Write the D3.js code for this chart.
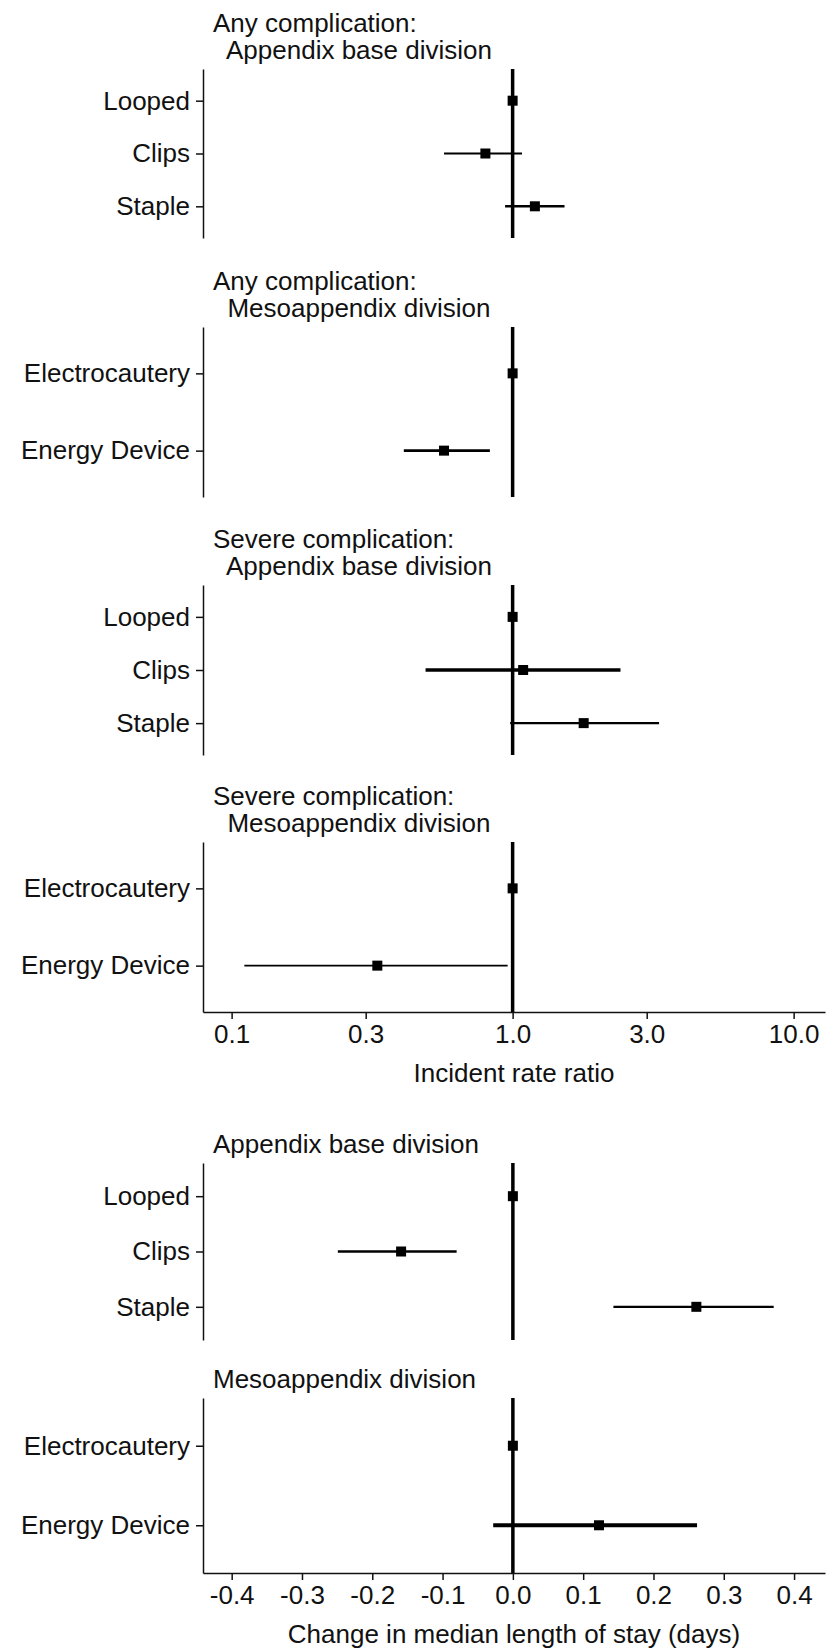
<html>
<head>
<meta charset="utf-8">
<title>Forest plots</title>
<style>
  body { margin: 0; background: #fff; }
  text { font-family: "Liberation Sans", Arial, sans-serif; fill: #111; }
</style>
<script src="https://d3js.org/d3.v7.min.js"></script>
</head>
<body>
<svg width="836" height="1651"></svg>
<script>
// ---- data ----
var baseMethods = ["Looped", "Clips", "Staple"];
var mesoMethods = ["Electrocautery", "Energy Device"];

var panelTitles = [
  ["Any complication:", "  Appendix base division"],
  ["Any complication:", "  Mesoappendix division"],
  ["Severe complication:", "  Appendix base division"],
  ["Severe complication:", "  Mesoappendix division"],
  ["Appendix base division"],
  ["Mesoappendix division"]
];

// incident rate ratios (reference level = 1)
var anyBaseEst = [1.00, 0.80, 1.20];
var anyBaseLo  = [1.00, 0.57, 0.94];
var anyBaseHi  = [1.00, 1.08, 1.53];

var anyMesoEst = [1.00, 0.57];
var anyMesoLo  = [1.00, 0.41];
var anyMesoHi  = [1.00, 0.83];

var sevBaseEst = [1.00, 1.09, 1.79];
var sevBaseLo  = [1.00, 0.49, 0.98];
var sevBaseHi  = [1.00, 2.42, 3.32];

var sevMesoEst = [1.00, 0.33];
var sevMesoLo  = [1.00, 0.111];
var sevMesoHi  = [1.00, 0.96];

// change in median length of stay (days)
var losBaseEst = [0.00, -0.159, 0.261];
var losBaseLo  = [0.00, -0.249, 0.143];
var losBaseHi  = [0.00, -0.080, 0.371];

var losMesoEst = [0.00, 0.1225];
var losMesoLo  = [0.00, -0.028];
var losMesoHi  = [0.00, 0.262];

var irrTicks = [0.1, 0.3, 1.0, 3.0, 10.0];
var losTicks = [-0.4, -0.3, -0.2, -0.1, 0.0, 0.1, 0.2, 0.3, 0.4];

// ---- layout ----
var svg = d3.select("svg");
var fs = 26;
var x0 = 203, x1 = 825;
var fmt = d3.formatLocale({decimal: ".", thousands: ",", grouping: [3], currency: ["", ""], minus: "-"}).format(".1f");

var xLog = d3.scaleLog().domain([0.0791, 12.93]).range([x0, x1]);
var xLin = d3.scaleLinear().domain([-0.4408, 0.4440]).range([x0, x1]);

function rows(cats, est, lo, hi) {
  return cats.map(function(c, i) { return {cat: c, est: est[i], lo: lo[i], hi: hi[i]}; });
}

var panels = [
  {title: panelTitles[0], data: rows(baseMethods, anyBaseEst, anyBaseLo, anyBaseHi), x: xLog, ref: 1, top: 69,   bottom: 238,  lw: [0, 2.2, 2.6]},
  {title: panelTitles[1], data: rows(mesoMethods, anyMesoEst, anyMesoLo, anyMesoHi), x: xLog, ref: 1, top: 327,  bottom: 497,  lw: [0, 2.6]},
  {title: panelTitles[2], data: rows(baseMethods, sevBaseEst, sevBaseLo, sevBaseHi), x: xLog, ref: 1, top: 585,  bottom: 755,  lw: [0, 3.4, 2.4]},
  {title: panelTitles[3], data: rows(mesoMethods, sevMesoEst, sevMesoLo, sevMesoHi), x: xLog, ref: 1, top: 842,  bottom: 1012, lw: [0, 1.8],
    axis: {ticks: irrTicks, label: "Incident rate ratio"}},
  {title: panelTitles[4], data: rows(baseMethods, losBaseEst, losBaseLo, losBaseHi), x: xLin, ref: 0, top: 1163, bottom: 1340, lw: [0, 2.6, 2.2]},
  {title: panelTitles[5], data: rows(mesoMethods, losMesoEst, losMesoLo, losMesoHi), x: xLin, ref: 0, top: 1398, bottom: 1573, lw: [0, 3.8],
    axis: {ticks: losTicks, label: "Change in median length of stay (days)"}}
];

panels.forEach(function(p) {
  var g = svg.append("g");
  var y = d3.scalePoint()
    .domain(p.data.map(function(d) { return d.cat; }))
    .range([p.top, p.bottom])
    .padding(0.6);

  // title
  var nLines = p.title.length;
  p.title.forEach(function(t, i) {
    g.append("text")
      .attr("x", 213)
      .attr("y", p.top - 19 - (nLines - 1 - i) * 27)
      .attr("dy", "0.35em")
      .style("white-space", "pre")
      .attr("font-size", fs)
      .text(t);
  });

  // y axis
  var ya = g.append("g")
    .attr("transform", "translate(" + x0 + ",0)")
    .call(d3.axisLeft(y).tickSize(7).tickPadding(6).tickSizeOuter(0));
  ya.select(".domain").attr("stroke", "#111").attr("stroke-width", 1.5);
  ya.selectAll(".tick line").attr("stroke", "#111").attr("stroke-width", 1.5);
  ya.selectAll(".tick text").attr("font-size", fs).attr("font-family", null).attr("fill", "#111");

  // reference line
  g.append("line")
    .attr("x1", p.x(p.ref)).attr("x2", p.x(p.ref))
    .attr("y1", p.top).attr("y2", p.bottom)
    .attr("stroke", "#000").attr("stroke-width", 3.5);

  // confidence intervals
  g.selectAll(".ci")
    .data(p.data.filter(function(d) { return d.lo !== d.hi; }))
    .enter().append("line")
    .attr("class", "ci")
    .attr("x1", function(d) { return p.x(d.lo); })
    .attr("x2", function(d) { return p.x(d.hi); })
    .attr("y1", function(d) { return y(d.cat); })
    .attr("y2", function(d) { return y(d.cat); })
    .attr("stroke", "#000")
    .attr("stroke-width", function(d) { return p.lw[p.data.indexOf(d)]; });

  // point estimates
  g.selectAll(".pt")
    .data(p.data)
    .enter().append("rect")
    .attr("class", "pt")
    .attr("x", function(d) { return p.x(d.est) - 5; })
    .attr("y", function(d) { return y(d.cat) - 5; })
    .attr("width", 10).attr("height", 10)
    .attr("fill", "#000");

  // x axis
  if (p.axis) {
    var xa = g.append("g")
      .attr("transform", "translate(0," + p.bottom + ")")
      .call(d3.axisBottom(p.x).tickValues(p.axis.ticks).tickFormat(fmt)
        .tickSize(7).tickPadding(6).tickSizeOuter(0));
    xa.select(".domain").attr("stroke", "#111").attr("stroke-width", 1.5);
    xa.selectAll(".tick line").attr("stroke", "#111").attr("stroke-width", 1.5);
    xa.selectAll(".tick text").attr("font-size", fs).attr("font-family", null).attr("fill", "#111");
    g.append("text")
      .attr("x", (x0 + x1) / 2)
      .attr("y", p.bottom + 61)
      .attr("dy", "0.35em")
      .attr("text-anchor", "middle")
      .attr("font-size", fs)
      .text(p.axis.label);
  }
});
</script>
</body>
</html>
